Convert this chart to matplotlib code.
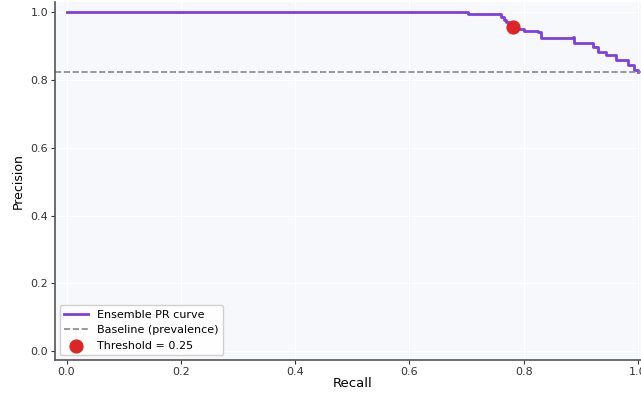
import numpy as np
import matplotlib.pyplot as plt

# precision-recall curve of the ensemble (step points)
recall = [0.0, 0.702, 0.702, 0.755, 0.760, 0.765, 0.770, 0.775, 0.782, 0.790, 0.801,
          0.810, 0.818, 0.825, 0.830, 0.886, 0.889, 0.918, 0.921, 0.927, 0.930,
          0.941, 0.944, 0.959, 0.962, 0.979, 0.982, 0.991, 0.994, 1.0]
precision = [1.0, 1.0, 0.994, 0.994, 0.985, 0.978, 0.970, 0.963, 0.955, 0.950, 0.945,
             0.943, 0.944, 0.940, 0.923, 0.927, 0.908, 0.908, 0.898, 0.898, 0.883,
             0.883, 0.874, 0.874, 0.859, 0.859, 0.844, 0.844, 0.829, 0.823]
prevalence = 0.823
thr_recall, thr_precision = 0.782, 0.955
thr_label = 'Threshold = 0.25'

fig = plt.figure(figsize=(6.41, 3.94), dpi=100)
ax = fig.add_axes([0.086, 0.087, 0.927, 0.908])
ax.set_facecolor('#f7f8fb')

ax.step(recall, precision, where='post', color='#7b3fe4', lw=2, label='Ensemble PR curve')
ax.axhline(prevalence, color='#888888', ls='--', lw=1.2, label='Baseline (prevalence)')
ax.scatter([thr_recall], [thr_precision], s=85, color='#dc2626', zorder=5, label=thr_label)

ax.set_xlim(-0.02, 1.02)
ax.set_ylim(-0.025, 1.03)
ax.set_xticks(np.arange(0, 1.01, 0.2))
ax.set_yticks(np.arange(0, 1.01, 0.2))
ax.set_xlabel('Recall', fontsize=9.5, labelpad=0)
ax.set_ylabel('Precision', fontsize=9, labelpad=4)
ax.tick_params(labelsize=8, colors='#333333', length=3, pad=2)
ax.grid(True, color='white', lw=0.8)
for s in ['top', 'right']:
    ax.spines[s].set_visible(False)
for s in ['left', 'bottom']:
    ax.spines[s].set_color('#555555')
    ax.spines[s].set_linewidth(1.2)

ax.legend(loc='lower left', fontsize=8, frameon=True, framealpha=0.9,
          borderaxespad=0.4, handlelength=2.2)

plt.savefig('out.png', dpi=100)
